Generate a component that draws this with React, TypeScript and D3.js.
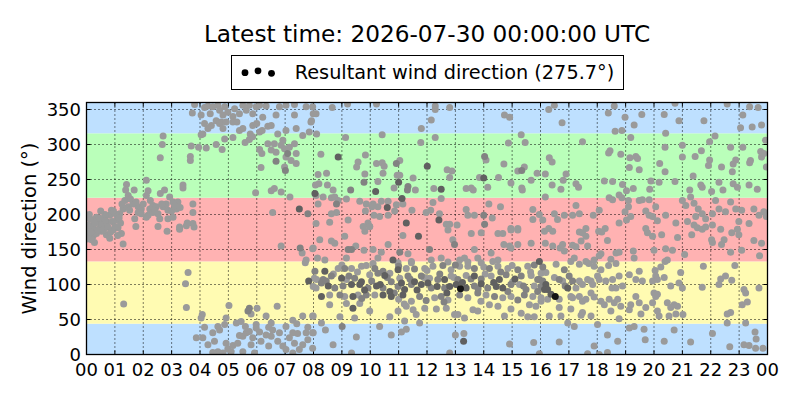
import React from "react";
import * as d3 from "d3";

type Pt = [number, number, number?];

// ---- tick labels / categories ----
const hourTicks: number[] = d3.range(0, 25);
const hourLabels: string[] = [
  "00","01","02","03","04","05","06","07","08","09","10","11",
  "12","13","14","15","16","17","18","19","20","21","22","23","00",
];
const degTicks: number[] = [0, 50, 100, 150, 200, 250, 300, 350];
const sectorBounds: number[] = [0, 44, 133, 224, 316, 360];
const sectorColors: string[] = ["#bee0ff", "#fffbb2", "#ffb2b2", "#baffba", "#bee0ff"];
const shadeColors: string[] = ["#9a9a9a", "#828282", "#606060", "#151515"];

const titleText = "Latest time: 2026-07-30 00:00:00 UTC";
const legendText = "Resultant wind direction (275.7°)";
const yLabel = "Wind direction (°)";

// ---- observations: [hour of day, direction in degrees, shade class] ----
const obs00to04: Pt[] = [
  [0.12,194],[0.18,184],[0.23,192],[0.35,196],[0.47,189],[0.59,192],[0.64,196],[0.82,199],[0.88,206],[1.06,192],
  [1.17,201],[1.29,208],[1.35,220],[1.47,211],[1.52,206],[1.64,215],[1.82,211],[1.93,208],[2.23,208],[2.34,213],
  [2.46,211],[2.70,211],[2.87,206],[3.17,208],[2.81,215],[3.05,218],[3.22,218],[2.93,225],[1.70,194],[1.82,203],
  [1.93,201],[2.17,199],[2.34,203],[2.52,201],[2.58,194],[2.87,194],[3.05,196],[2.11,196],[3.52,184],[3.28,182],
  [3.75,215],[3.75,203],[3.75,187],[1.41,243],[1.38,235],[1.68,235],[1.47,227],[2.11,249],[2.17,234],[2.11,227],
  [2.60,230],[3.40,242],[3.40,238],[2.70,312],[2.67,300],[2.60,281],[3.66,283],[3.66,277],[3.69,298],
  [0.12,178],[0.23,169],[0.18,164],[0.35,173],[0.53,176],[0.70,171],[0.82,166],[0.94,178],[1.11,181],[1.23,173],
  [1.29,158],[0.47,181],[0.06,171],[2.52,183],[2.84,176],[3.28,179],[3.79,182],[1.74,183],[3.58,117],[3.49,101],
  [1.31,72],[3.52,67],
  [0.05,185],[0.10,200],[0.25,180],[0.30,188],[0.40,178],[0.45,195],[0.55,185],[0.60,178],[0.70,190],[0.75,182],
  [0.85,175],[0.90,190],[1.00,183],[1.05,200],[1.10,170],[1.20,188],[0.15,175],[0.65,200],[0.95,205],[0.50,205],
  [0.02,165],[0.28,160],[1.15,195],[1.25,215],[1.55,222],[1.75,218],[2.00,215],[2.25,220],[2.40,205],[2.65,215],
  [3.00,205],[3.10,212],[3.30,210],[2.75,235],[3.55,188],
];

const obs04to08: Pt[] = [
  [3.81,357],[3.73,345],[4.04,342],[4.16,353],[4.28,355],[4.36,344],[4.45,354],[4.63,356],[4.69,349],[4.81,342],
  [4.75,332],[4.87,354],[4.98,346],[5.16,340],[5.22,351],[5.30,332],[5.39,344],[5.51,356],[5.63,349],[5.74,356],
  [5.86,344],[5.98,354],[6.10,356],[6.21,339],[6.33,355],[6.39,326],[4.16,330],[4.10,315],[4.28,323],[4.40,327],
  [4.57,334],[4.69,330],[4.81,323],[4.92,332],[5.16,332],[5.39,320],[5.51,323],[5.77,315],[5.86,327],[6.00,330],
  [6.10,318],[6.19,320],[6.51,327],[6.68,342],[6.80,354],[7.03,356],[7.33,357],[7.33,342],[7.39,323],[7.62,313],
  [7.74,354],[7.91,332],[7.97,354],[8.09,344],[7.85,318],[7.03,320],[6.74,315],[6.92,306],[6.62,301],[6.39,301],
  [6.10,293],[6.18,287],[6.51,292],[6.68,289],[6.86,299],[6.98,294],[7.09,287,1],[7.03,282],[7.15,296],[7.33,301],
  [7.39,287],[7.21,277],[7.39,273],[6.68,276,1],[7.01,263,1],[6.98,268],[6.15,267],[5.59,303],[5.74,307],[5.86,311],
  [5.16,310],[4.87,308],[4.57,300],[4.78,293],[4.22,295],[3.95,296],[4.04,314],
  [5.96,231],[6.51,234],[6.62,237],[6.86,232],[7.17,225],[7.50,208,2],[7.80,201,1],[6.56,203],[8.09,227],[8.09,187],
  [6.86,155],[7.53,152,1],[7.60,145],[7.74,135],[7.71,131],[7.97,151],[7.83,105,2],[8.03,109],[8.09,95],
  [4.08,57],[4.04,52],[4.16,39],[5.02,70],[5.74,66,1],[5.69,62,1],[5.80,58],[6.01,66],[6.33,55],[6.72,69],
  [7.27,49],[7.62,55],[7.97,55],[4.92,52],[5.28,45],[5.45,47],[5.60,40],[5.98,43],[6.51,45],[6.42,39],
  [7.03,40],[7.41,44],[7.44,30],[7.80,39],[7.74,31],[7.97,31],[3.87,24],[4.10,24],[4.28,14],[4.45,31],
  [4.51,19],[4.63,40],[4.69,35],[4.87,43],[4.92,16],[4.98,8],[5.16,13],[5.10,4],[5.33,16],[5.39,27],
  [5.51,26],[5.63,31],[5.74,33],[5.86,24],[5.80,14],[5.98,38],[6.10,32],[6.15,19],[6.33,28],[6.42,12],
  [6.51,26],[6.56,35],[6.74,19],[6.80,31],[6.92,12],[7.03,7],[7.15,24],[7.27,31],[7.33,16],[7.50,7],
  [7.62,14],[7.80,21],[7.97,9],[4.63,4],[4.45,3],[4.81,2],[5.92,2],[5.51,4],[7.27,2],
];

const obs08to16: Pt[] = [
  [7.99,344],[7.93,334],[8.11,315],[8.66,353],[9.20,358],[10.22,358],[12.29,355],[12.29,350],[12.80,353],[12.15,335],
  [11.80,323],[14.73,342],[14.91,339],[10.42,314],[9.13,310],[12.29,310],[11.78,303],[15.32,314],[15.46,303],[14.87,302],
  [8.26,286],[8.87,282,2],[9.83,285],[9.57,275],[9.52,268],[10.22,273],[10.42,274],[10.49,269],[10.92,273,1],[11.04,277],
  [12.01,269,2],[12.71,264],[12.88,262],[14.03,283,1],[14.08,278],[14.71,272],[15.20,262],[15.43,268],[15.34,263,1],[15.88,259],
  [8.16,257],[8.46,259],[8.07,242],[8.19,244],[8.49,242],[8.69,235],[9.81,258],[10.45,259],[10.95,256],[11.04,256],
  [10.27,247],[9.78,246,1],[9.31,235,1],[10.19,233,2],[11.00,246,2],[10.84,238],[11.33,240,1],[11.31,235,1],[11.59,235],[11.51,252],
  [12.24,237],[12.50,236,2],[12.80,253],[13.38,237],[13.56,238],[13.63,235],[13.85,253],[14.00,252,2],[14.14,239],[14.52,253],
  [14.96,245],[15.34,238],[15.36,235],[15.67,249],
  [8.05,230,2],[8.34,225],[8.63,224],[8.75,225],[8.87,220],[8.81,215,1],[8.16,215],[9.16,222],[9.63,219],[9.86,215],
  [10.10,215],[10.39,219],[10.63,219],[11.12,223,2],[10.92,214],[10.60,210,2],[10.27,211],[10.06,211],[10.13,199],[10.33,197],
  [10.63,199],[9.83,205],[8.81,203],[8.63,201],[9.22,192],[8.57,189],[9.75,183],[9.98,183],[9.92,188],[10.86,205],
  [11.15,215],[11.27,188,2],[11.47,206],[11.97,203],[12.13,206],[12.21,217],[12.44,201],[12.42,192,2],[12.50,223],[12.68,186],
  [12.80,186],[13.06,185],[13.38,207],[13.44,199],[13.67,199],[14.00,199,1],[14.03,186,1],[14.30,195],[14.59,211],[14.18,215],
  [14.96,180],[15.20,180],[15.73,207],[15.73,193],
  [7.99,152],[8.22,164],[8.63,162],[8.75,159],[9.10,169],[9.22,150,1],[9.34,150,1],[9.49,155],[9.81,176],[9.98,183],
  [9.78,149],[10.10,150],[10.63,157],[11.15,170],[11.70,169,2],[11.04,146,1],[10.39,146],[10.27,138],[10.80,135,2],[11.33,144],
  [11.45,133],[12.09,150,1],[12.15,135],[12.50,138],[12.74,178],[12.91,164],[12.97,157,1],[13.56,173],[13.67,150],[13.91,174],
  [13.79,138],[14.50,173],[14.67,173],[14.96,178],[15.20,178],[14.96,152],[15.20,157],[15.67,159],[14.71,157],[14.91,155],
  [8.14,138],[8.40,135],[9.16,138],[13.15,135],[13.32,138],[14.26,145],[14.50,135],
  [8.05,119,1],[8.40,119,2],[8.87,123],[9.10,123,1],[9.34,123],[9.69,126],[9.86,127],[10.16,123,1],[10.45,119,1],[10.69,116],
  [10.98,121,2],[11.27,123],[11.56,122,1],[11.92,123],[12.21,126],[12.56,127,1],[12.85,121],[13.15,126],[13.44,126],[13.67,123,1],
  [13.91,131],[14.20,123,1],[14.50,126],[14.85,123],[15.20,121,1],[15.55,126],[15.78,128,1],[10.98,131],[11.45,131],[12.74,132],
  [13.44,132],[14.32,133],
  [8.11,107],[8.34,107,1],[8.63,112,1],[8.99,109,2],[9.16,107],[9.45,109,1],[9.69,104,2],[9.98,114],[10.27,116,1],[10.51,113,2],
  [10.74,104,1],[11.04,109],[11.33,112,1],[11.56,104,2],[11.80,112,1],[12.09,109],[12.38,107,1],[12.62,107,2],[12.85,112],[13.09,107,1],
  [13.38,113],[13.67,112,2],[13.91,108,1],[14.26,112],[14.55,107,2],[14.79,114,1],[15.02,104],[15.32,112,1],[15.67,113],[15.90,107,1],
  [16.02,116],
  [7.99,97],[8.28,102,1],[8.52,98,2],[8.75,95,1],[9.04,98,1],[9.34,100,2],[9.63,100,2],[9.92,95,1],[10.22,98,2],[10.45,95,1],
  [10.69,90,2],[10.98,97,1],[11.21,93,2],[11.45,100,1],[11.80,100,2],[12.03,102,2],[12.36,97,2],[12.62,95,1],[12.80,97,2],[13.03,100,2],
  [13.18,94,3],[13.38,95,2],[13.67,98,1],[13.91,101,2],[14.14,95,1],[14.44,97,2],[14.67,95,2],[14.96,100,1],[15.26,100],[15.49,93,1],
  [15.78,98],[16.02,97,1],
  [8.28,83,2],[8.57,85],[8.93,85,1],[9.10,83],[9.39,83,2],[9.57,85],[9.86,85,1],[10.16,85],[10.45,85,2],[10.74,83,2],
  [11.00,79],[11.15,85,2],[11.45,76],[11.74,83,1],[11.97,77,1],[12.27,81],[12.50,83,1],[12.74,78],[13.15,85,1],[13.44,81],
  [13.79,88,1],[14.08,85],[14.38,83,1],[14.67,81],[14.96,83],[15.43,85,1],[15.73,83],[16.02,76],
  [8.57,71],[9.16,73],[9.39,66,2],[9.63,73],[9.98,62],[10.69,54],[10.98,62],[11.27,69],[11.51,64],[11.62,57],
  [11.92,66],[12.33,65],[12.68,66],[13.09,57],[13.32,52],[13.62,64],[13.79,62],[14.20,71],[14.50,69],[14.96,65],
  [15.32,59],[15.61,71],[15.84,69],
  [7.99,55],[8.28,45],[8.93,54],[9.45,52],[10.33,40],[11.21,48],[11.74,45],[12.97,57],[14.73,55],[15.55,54],[15.78,54],
  [7.99,31],[8.42,35],[8.69,14],[9.01,40,1],[9.51,25],[10.74,28],[11.10,32],[11.27,36],[13.00,28],[13.30,30],
  [13.29,19,2],[14.91,15],[15.76,17],[9.34,2],[12.80,2],
  [8.45,105,1],[8.70,115],[9.25,112,1],[9.55,118],[9.80,92,2],[10.05,105,1],[10.35,100,2],[10.60,110,1],[10.85,88,1],[11.10,102,2],
  [11.40,108,1],[11.65,92,2],[11.90,110],[12.15,95,1],[12.45,115,1],[12.70,88,2],[12.95,110],[13.25,103,2],[13.55,108,1],[13.80,94,1],
  [14.05,115],[14.35,103,2],[14.60,118,1],[14.85,90,1],[15.10,108,2],[15.40,98,1],[15.65,118],[15.90,90,1],[9.00,128],[10.10,130],
  [11.00,126,1],[12.00,120],[13.00,128,1],[14.00,125],[15.00,127],[9.70,80,1],[11.20,72],[12.60,75,1],[13.90,76],[15.20,78,1],
];

const obs16to24: Pt[] = [
  [16.29,350],[16.49,356],[16.76,331],[17.48,304],[18.39,345],[18.60,355],[18.98,339],[19.18,310],[19.30,328],[19.57,343],
  [18.63,319],[18.87,320],[20.36,343],[20.41,316],[20.88,334],[20.74,359],[21.76,334],[22.15,312],[21.96,304],[22.58,358],
  [23.13,342],[23.05,324],[23.46,325],[23.37,354],[23.67,353],[23.79,328],[23.93,306],
  [16.31,281],[16.41,275],[16.17,258],[16.90,258],[16.80,249],[17.25,244],[17.34,239],[16.41,242],[16.72,236],[18.45,291],
  [18.40,288],[18.83,286],[19.15,281],[19.36,283],[19.42,280],[19.13,267],[19.48,264],[20.20,273],[20.39,261],[20.39,296],
  [21.00,299],[21.00,282],[21.45,283],[21.67,291],[21.96,278],[21.92,270],[22.38,268],[22.70,296],[22.88,278],[22.79,272],
  [22.76,261],[23.13,296],[23.40,277],[23.37,274],[23.76,290],[23.79,282],[23.87,287],[23.96,268],
  [18.25,248],[18.54,247],[18.89,243],[19.03,234],[19.27,237],[19.89,248],[19.85,236],[20.18,246],[20.74,247],[21.38,255],
  [21.26,235],[21.65,242],[21.70,239],[22.03,233],[22.29,246],[22.43,235],[22.79,244],[22.94,239],[23.35,242],[23.64,236],
  [16.17,225],
  [18.42,224],[18.54,221],[18.77,228],[18.87,224],[19.10,220],[19.48,220],[19.59,221],[19.83,221],[20.06,211],[19.71,205],
  [19.83,199],[19.95,197],[18.98,204],[19.10,211],[18.07,206],[17.86,199],[17.37,201],[17.25,213],[17.13,199],[16.84,199],
  [16.60,193],[16.49,201],[16.29,180],[16.08,192],[15.96,200],[17.60,180],[18.28,180],[18.77,188],[19.03,192],[19.18,197],
  [20.41,199],[20.12,191],[21.00,220],[21.12,213],[21.29,225],[21.41,216],[21.56,208],[21.70,201],[21.47,197],[21.82,194],
  [22.06,201],[22.17,220],[22.29,208],[22.52,204],[22.70,218],[22.88,208],[23.09,206],[22.99,190],[23.35,187],[23.52,208],
  [23.70,199],[23.87,204],[23.96,197],[21.18,190],[21.41,185],[22.06,185],[20.77,188],[19.71,180],
  [16.14,176],[16.43,176],[16.17,159],[16.43,155],[16.69,152],[16.84,148],[16.78,157],[17.13,156],[17.25,154],[17.37,175],
  [17.48,174],[17.60,169],[17.43,162],[17.66,155],[18.05,176],[18.16,175],[18.36,163],[18.13,144],[18.07,141],[18.48,136],
  [18.77,146],[18.66,145],[19.27,148],[19.30,138],[19.77,174],[19.95,169],[20.00,149],[20.27,171],[20.41,151],[20.65,149],
  [20.83,167],[21.08,143],[21.33,171],[21.53,181],[21.70,179],[21.82,182],[22.03,164],[22.06,160],[22.35,179],[22.47,164],
  [22.38,157],[22.74,174],[22.94,179],[22.99,171],[22.70,146],[23.09,149],[23.52,163],[23.79,159],[23.72,141],[15.96,133,2],
  [16.08,125,1],[16.19,117],[16.55,129],[16.84,121,1],[17.07,133],[17.19,138],[17.37,129],[17.60,133],[17.70,130],[17.89,135],
  [17.89,126],[18.13,121],[18.40,127],[18.66,130],[19.13,114],[19.48,119],[20.04,120],[20.24,125],[20.39,133],[20.47,135],
  [20.36,110],[20.06,112],[20.94,117],[21.74,126],[22.35,108],[22.52,112],[22.74,106],[22.85,127],
  [15.96,107,1],[16.08,105,1],[16.19,100,2],[16.14,93,2],[16.37,86,2],[16.52,83,3],[16.25,93,2],[16.49,110],[16.66,107,1],[16.78,105],
  [16.87,98,1],[17.01,112,1],[17.13,105,1],[16.96,95,2],[17.25,95],[17.37,105],[17.48,100],[17.66,107],[17.78,105],[17.84,100],
  [18.01,112],[18.07,107],[18.30,105],[18.54,107],[18.77,112],[18.52,95],[18.66,95],[18.89,98],[19.36,107],[19.59,105],
  [19.95,105],[20.12,107],[20.00,88],[20.12,86],[20.59,98],[20.88,102],[21.00,95],[21.70,96],[22.29,100],[23.17,93],
  [23.23,88],[23.70,95],
  [16.02,81],[16.25,79],[16.66,79],[17.07,83],[17.13,81],[17.37,83],[17.48,76],[17.60,79],[17.78,88],[17.89,82],
  [18.13,76],[18.25,71],[18.42,79],[18.48,62],[18.60,74],[18.72,79],[18.83,69],[19.18,71],[19.36,83],[19.48,74],
  [19.71,67],[19.95,74],[20.06,83],[20.47,74],[20.71,71],[20.83,69],[20.59,67],[20.18,55],[20.53,55],[20.77,58],
  [21.02,57],[22.70,60],[22.58,58],[23.11,71],[23.29,75],
  [16.31,55],[16.66,67],[16.72,55],[17.07,65],[17.43,56],[17.48,60],[17.78,55],[18.77,51],[19.13,64],[19.54,58],[20.12,62],
  [16.96,45],[17.19,40],[18.01,43],[18.07,0],[17.89,12],[17.66,1],[18.36,28],[18.36,3],[18.72,19],[19.13,38],
  [19.30,40],[19.65,36],[19.69,21],[20.36,19],[20.71,35],[21.29,18],[22.06,30],[22.58,45],[22.67,11],[23.23,45],
  [23.56,32],[23.60,22],[23.35,13],[23.17,14],[23.58,9],[23.84,9],[16.66,18],[15.96,1],
];

// ---- layout ----
const W = 800;
const H = 400;
const plotLeft = 86.5;
const plotRight = 767.5;
const plotTop = 102.5;
const plotBottom = 354.5;
const FONT = "'DejaVu Sans', sans-serif";

export default function App() {
  const x = d3.scaleLinear().domain([0, 24]).range([plotLeft, plotRight]);
  const y = d3.scaleLinear().domain([0, 360]).range([plotBottom, plotTop]);

  const all: Pt[] = [...obs00to04, ...obs04to08, ...obs08to16, ...obs16to24];
  const sorted = all.slice().sort((a, b) => (a[2] ?? 0) - (b[2] ?? 0));

  const legendDots = [
    { dx: 245, dy: 72.7 },
    { dx: 258, dy: 70.8 },
    { dx: 271.5, dy: 73.3 },
  ];

  return (
    <div style={{ position: "fixed", left: 0, top: 0, width: W, height: H, background: "#fff" }}>
      <svg width={W} height={H} viewBox={`0 0 ${W} ${H}`} style={{ display: "block", fontFamily: FONT }}>
        <defs>
          <clipPath id="plotClip">
            <rect x={plotLeft} y={plotTop} width={plotRight - plotLeft} height={plotBottom - plotTop} />
          </clipPath>
        </defs>
        <rect x={0} y={0} width={W} height={H} fill="#fff" />

        {/* sector bands */}
        {sectorColors.map((c, i) => (
          <rect
            key={"band" + i}
            x={plotLeft}
            width={plotRight - plotLeft}
            y={y(sectorBounds[i + 1])}
            height={y(sectorBounds[i]) - y(sectorBounds[i + 1])}
            fill={c}
          />
        ))}

        {/* grid */}
        <g stroke="#000" strokeWidth={1} strokeDasharray="1,3" fill="none">
          {hourTicks.slice(1, -1).map((h) => (
            <line key={"gx" + h} x1={x(h)} x2={x(h)} y1={plotTop} y2={plotBottom} />
          ))}
          {degTicks.slice(1).map((d) => (
            <line key={"gy" + d} x1={plotLeft} x2={plotRight} y1={y(d)} y2={y(d)} />
          ))}
        </g>

        {/* ticks (inward, all sides) */}
        <g stroke="#000" strokeWidth={1}>
          {hourTicks.map((h) => (
            <g key={"tx" + h}>
              <line x1={x(h)} x2={x(h)} y1={plotBottom} y2={plotBottom - 4} />
              <line x1={x(h)} x2={x(h)} y1={plotTop} y2={plotTop + 4} />
            </g>
          ))}
          {degTicks.map((d) => (
            <g key={"ty" + d}>
              <line x1={plotLeft} x2={plotLeft + 4} y1={y(d)} y2={y(d)} />
              <line x1={plotRight} x2={plotRight - 4} y1={y(d)} y2={y(d)} />
            </g>
          ))}
        </g>

        {/* observations */}
        <g clipPath="url(#plotClip)">
          {sorted.map((p, i) => (
            <circle key={"p" + i} cx={x(p[0])} cy={y(p[1])} r={3.5} fill={shadeColors[p[2] ?? 0]} />
          ))}
        </g>

        {/* frame */}
        <rect
          x={plotLeft}
          y={plotTop}
          width={plotRight - plotLeft}
          height={plotBottom - plotTop}
          fill="none"
          stroke="#000"
          strokeWidth={1.3}
        />

        {/* tick labels */}
        <g fontSize={18} fill="#000">
          {hourTicks.map((h, i) => (
            <text key={"lx" + h} x={x(h)} y={375.5} textAnchor="middle">
              {hourLabels[i]}
            </text>
          ))}
          {degTicks.map((d) => (
            <text key={"ly" + d} x={81} y={y(d)} dy="0.36em" textAnchor="end">
              {d}
            </text>
          ))}
        </g>

        {/* y label */}
        <text
          transform={`translate(36,${(plotTop + plotBottom) / 2}) rotate(-90)`}
          textAnchor="middle"
          fontSize={19.5}
          fill="#000"
        >
          {yLabel}
        </text>

        {/* title */}
        <text x={(plotLeft + plotRight) / 2} y={41.7} textAnchor="middle" fontSize={23.2} fill="#000">
          {titleText}
        </text>

        {/* legend */}
        <rect x={231.5} y={55.5} width={392} height={34} fill="#fff" stroke="#000" strokeWidth={1} />
        {legendDots.map((d, i) => (
          <circle key={"ld" + i} cx={d.dx} cy={d.dy} r={3.4} fill="#000" />
        ))}
        <text x={294.7} y={78.5} fontSize={19.3} fill="#000">
          {legendText}
        </text>
      </svg>
    </div>
  );
}
